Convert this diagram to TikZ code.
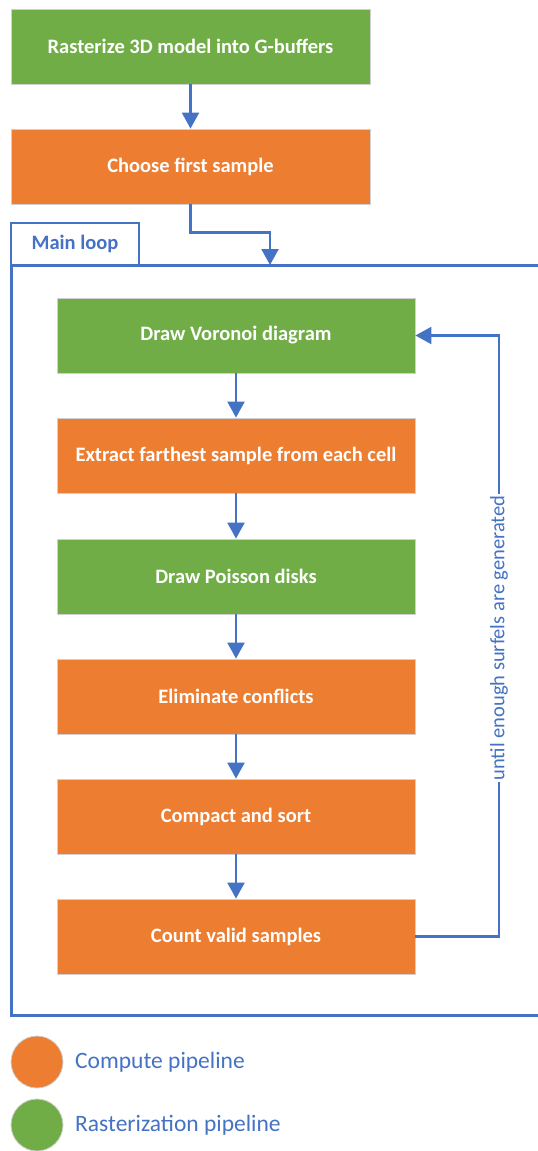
\documentclass[tikz,border=0pt]{standalone}
\usepackage{fontspec}
\setmainfont{Carlito}
\usetikzlibrary{arrows.meta,positioning}
\definecolor{rgreen}{HTML}{70AD47}
\definecolor{corange}{HTML}{ED7D31}
\definecolor{lblue}{HTML}{4472C4}
\definecolor{edgegray}{HTML}{D0D0D0}
\tikzset{
  stepbox/.style={draw=edgegray, line width=0.8pt, minimum width=359pt, minimum height=75pt,
    inner sep=0pt, text=white, font=\fontsize{20.5}{24}\selectfont\bfseries},
  rast/.style={stepbox, fill=rgreen},
  comp/.style={stepbox, fill=corange},
  inbox/.style={stepbox, minimum width=358pt},
  flow/.style={draw=lblue, line width=2.2pt, -{Triangle[width=17pt,length=16pt]}},
  legdot/.style={circle, draw=edgegray, line width=0.8pt, minimum size=52pt, inner sep=0pt},
  legtext/.style={text=lblue, anchor=west, font=\fontsize{23.5}{28}\selectfont, inner sep=0pt}
}
\begin{document}
\begin{tikzpicture}[x=1pt,y=-1pt]
\useasboundingbox (0,0) rectangle (538,1151);
\clip (0,0) rectangle (538,1151);

% pre-loop steps
\node[rast] (raster) at (190.5,46.5) {Rasterize 3D model into G-buffers};
\node[comp] (first)  at (190.5,166.5) {Choose first sample};

% main loop frame and its tab
\node[draw=lblue, line width=1.5pt, minimum width=128pt, minimum height=42pt, inner sep=0pt,
      text=lblue, font=\fontsize{20.5}{24}\selectfont\bfseries] (tab) at (75,244) {Main loop};
\draw[lblue, line width=3pt] (560,265) -- (11,265) -- (11,1015) -- (560,1015);
\coordinate (loopin) at (270,265);

% loop body
\node[inbox, fill=rgreen]  (voronoi) at (236,335.5) {Draw Voronoi diagram};
\node[inbox, fill=corange] (extract) at (236,455.5) {Extract farthest sample from each cell};
\node[inbox, fill=rgreen]  (poisson) at (236,576.5) {Draw Poisson disks};
\node[inbox, fill=corange] (elim)    at (236,696.5) {Eliminate conflicts};
\node[inbox, fill=corange] (compact) at (236,816.5) {Compact and sort};
\node[inbox, fill=corange] (count)   at (236,936.5) {Count valid samples};

% connectors
\draw[flow] (raster.south) -- (first.north);
\draw[flow] (first.south) -- ++(0,28) -| (loopin);
\draw[flow] (voronoi) -- (extract);
\draw[flow] (extract) -- (poisson);
\draw[flow] (poisson) -- (elim);
\draw[flow] (elim) -- (compact);
\draw[flow] (compact) -- (count);

% feedback edge
\coordinate (fbr) at (499,936.5);
\coordinate (fbt) at (499,335.5);
\draw[flow] (count.east) -- (fbr) -- (fbt) -- (voronoi.east);
\node[fill=white, text=lblue, rotate=90, inner sep=1pt, font=\fontsize{20.5}{24}\selectfont]
  (until) at (499,638) {until enough surfels are generated};

% legend
\node[legdot, fill=corange] (ldot1) at (37,1062) {};
\node[legtext] (ltext1) at (75,1062) {Compute pipeline};
\node[legdot, fill=rgreen] (ldot2) at (37,1125) {};
\node[legtext] (ltext2) at (75,1125) {Rasterization pipeline};
\end{tikzpicture}
\end{document}
